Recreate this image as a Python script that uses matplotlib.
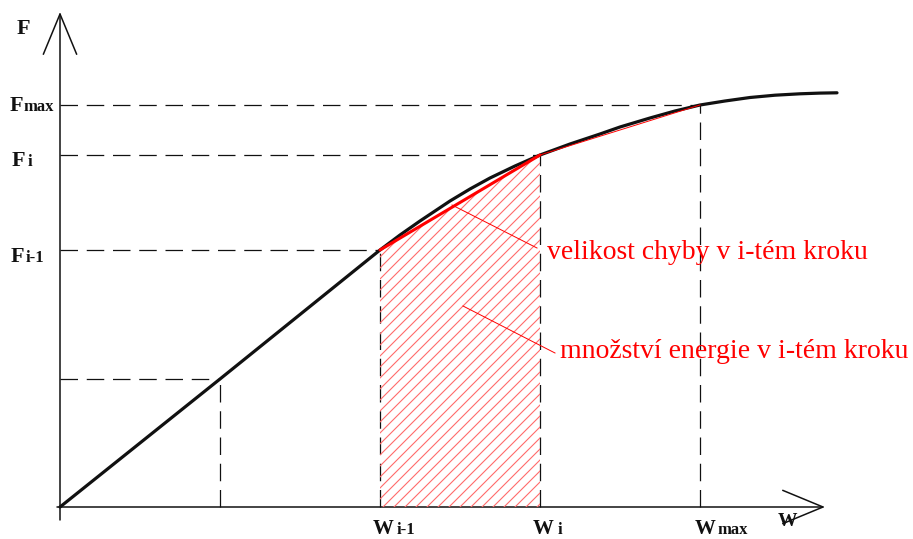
import numpy as np
import matplotlib.pyplot as plt
from matplotlib.patches import Polygon, FancyArrowPatch

# krivka F(w) (jednotky ~ pixely od pocatku)
curve_w = [0, 160, 320, 340, 360, 390, 410, 430, 455, 480, 495, 510, 525, 540, 560, 590,
           615, 640, 665, 690, 715, 740, 760, 777]
curve_f = [0, 128, 257, 272, 286, 306, 318, 329, 341, 352, 357.5, 363, 368, 373, 380, 389,
           396, 402, 406, 409.5, 411.8, 413.2, 413.9, 414.2]

# body kroku
w_steps = [160, 320, 480, 640]
f_steps = [128, 257, 352, 402]

f_labels = [None, ("F", "i-1"), ("F", "i"), ("F", "max")]
w_labels = [None, ("W", "i-1"), ("W", "i"), ("W", "max")]

texty = ["velikost chyby v i-tém kroku", "množství energie v i-tém kroku"]

plt.rcParams['font.family'] = ['Liberation Serif', 'DejaVu Serif']

fig = plt.figure(figsize=(9.13, 5.39), dpi=100)
ax = fig.add_axes([0, 0, 1, 1])
ax.set_xlim(-60, 853)
ax.set_ylim(-32, 507)
ax.axis('off')

black = '#111111'
red = '#ff0000'

# osy se sipkami
for start, end in [((0, -13), (0, 495)), ((-3, 0), (765, 0))]:
    ax.add_patch(FancyArrowPatch(start, end, arrowstyle='->,head_length=1.45,head_width=0.6',
                                 mutation_scale=20, lw=1.1, color=black,
                                 shrinkA=0, shrinkB=0))

# carkovane pomocne cary
for w, f in zip(w_steps, f_steps):
    ax.plot([0, w], [f, f], color=black, lw=0.9, dashes=(14, 7))
    ax.plot([w, w], [0, f], color=black, lw=0.9, dashes=(14, 7))

# srafovana plocha (energie v i-tem kroku)
i = 1
poly = Polygon([(w_steps[i], 0), (w_steps[i], f_steps[i]),
                (w_steps[i + 1], f_steps[i + 1]), (w_steps[i + 1], 0)],
               closed=True, facecolor='none', edgecolor='none')
ax.add_patch(poly)
for c in np.arange(-700, 700, 11):
    ln, = ax.plot([c, c + 800], [0, 800], color='#ff6b6b', lw=0.8)
    ln.set_clip_path(poly)

# krivka
ax.plot(curve_w, curve_f, color=black, lw=2.3, solid_capstyle='round', solid_joinstyle='round')

# tetivy
ax.plot(w_steps[1:3], f_steps[1:3], color=red, lw=2.2, solid_capstyle='round')
ax.plot(w_steps[2:4], f_steps[2:4], color=red, lw=0.7)

# popisky F
ax.text(-43, 473, "F", fontsize=16, fontweight='bold', color=black, va='baseline')
f_pos = {1: (-49, -34, 245), 2: (-48, -32, 341), 3: (-50, -37, 396)}
for k, (x0, x1, y0) in f_pos.items():
    ax.text(x0, y0, f_labels[k][0], fontsize=16, fontweight='bold', color=black, va='baseline')
    ax.text(x1, y0, f_labels[k][1], fontsize=12, fontweight='bold', color=black, va='baseline')

# popisky W
w_pos = {1: (313, 337), 2: (473, 498), 3: (635, 658)}
for k, (x0, x1) in w_pos.items():
    ax.text(x0, -27, w_labels[k][0], fontsize=15, fontweight='bold', color=black, va='baseline')
    ax.text(x1, -27, w_labels[k][1], fontsize=12, fontweight='bold', color=black, va='baseline')
ax.text(718, -19, "W", fontsize=14, fontweight='bold', color=black, va='baseline')

# odkazy
ax.plot([392, 477], [302, 259], color=red, lw=0.7)
ax.plot([403, 495], [201, 154], color=red, lw=0.7)
ax.text(487, 248, texty[0], fontsize=20, color=red, va='baseline')
ax.text(500, 149, texty[1], fontsize=20, color=red, va='baseline')

fig.savefig('out.png', dpi=100)
